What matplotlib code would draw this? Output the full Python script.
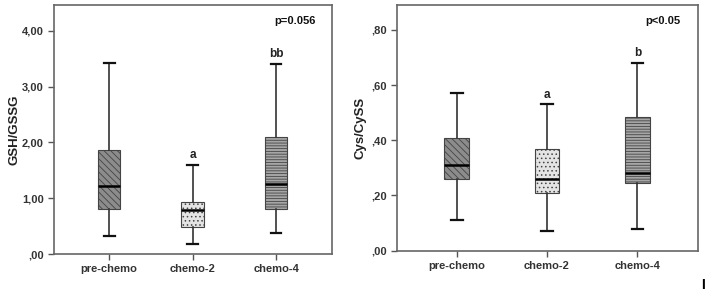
import numpy as np
import matplotlib.pyplot as plt
from matplotlib.ticker import FuncFormatter

groups = ["pre-chemo", "chemo-2", "chemo-4"]

# GSH/GSSG: whislo, q1, med, q3, whishi
gsh_low = [0.33, 0.18, 0.38]
gsh_q1 = [0.81, 0.49, 0.80]
gsh_med = [1.22, 0.78, 1.25]
gsh_q3 = [1.87, 0.94, 2.10]
gsh_high = [3.43, 1.60, 3.41]
gsh_marks = ["", "a", "bb"]

# Cys/CySS
cys_low = [0.11, 0.07, 0.08]
cys_q1 = [0.26, 0.21, 0.245]
cys_med = [0.31, 0.26, 0.28]
cys_q3 = [0.41, 0.37, 0.485]
cys_high = [0.57, 0.53, 0.68]
cys_marks = ["", "a", "b"]

fills = ["#8c8c8c", "#e4e4e4", "#a6a6a6"]
hatches = ["\\\\\\\\\\", "....", "------"]

plt.rcParams['font.family'] = ['Liberation Sans', 'DejaVu Sans']
plt.rcParams['hatch.linewidth'] = 0.6


def comma_fmt(v, pos):
    s = "%.2f" % v
    s = s.replace(".", ",")
    if s.startswith("0,"):
        s = s[1:]
    return s


def draw(ax, low, q1, med, q3, high, marks, ylim, ystep, ylabel, ptext):
    stats = []
    for i in range(len(groups)):
        stats.append(dict(whislo=low[i], q1=q1[i], med=med[i], q3=q3[i], whishi=high[i], fliers=[]))
    bp = ax.bxp(stats, positions=[1, 2, 3], widths=0.27, patch_artist=True,
                showfliers=False,
                medianprops=dict(color="black", linewidth=1.8),
                whiskerprops=dict(color="#333333", linewidth=1.2),
                capprops=dict(color="#111111", linewidth=1.6),
                boxprops=dict(edgecolor="#444444", linewidth=0.8))
    for patch, fc, h in zip(bp["boxes"], fills, hatches):
        patch.set_facecolor(fc)
        patch.set_hatch(h)
    for cap in bp["caps"]:
        x = cap.get_xdata()
        c = np.mean(x)
        cap.set_xdata([c - 0.065, c + 0.065])
    span = ylim[1] - ylim[0]
    for i, m in enumerate(marks):
        if m:
            ax.text(i + 1, high[i] + span * 0.015, m, ha="center", va="bottom",
                    fontsize=8.5, fontweight="bold", color="#222222")
    ax.set_xlim(0.34, 3.67)
    ax.set_ylim(ylim)
    ax.set_yticks(np.arange(0, ylim[1], ystep))
    ax.yaxis.set_major_formatter(FuncFormatter(comma_fmt))
    ax.set_xticks([1, 2, 3])
    ax.set_xticklabels(groups)
    ax.tick_params(axis="both", labelsize=8, color="#555555", length=4, width=1)
    for lab in ax.get_xticklabels() + ax.get_yticklabels():
        lab.set_fontweight("bold")
        lab.set_color("#333333")
    ax.set_ylabel(ylabel, fontsize=9.5, fontweight="bold", color="#222222")
    for s in ax.spines.values():
        s.set_color("#666666")
        s.set_linewidth(1.2)
    ax.text(0.94, 0.935, ptext, transform=ax.transAxes, ha="right", va="center",
            fontsize=8, fontweight="bold", color="#111111")


fig = plt.figure(figsize=(7.09, 2.94), dpi=100)
ax1 = fig.add_axes([54 / 709, 40 / 294, 278 / 709, 249 / 294])
ax2 = fig.add_axes([397 / 709, 43.3 / 294, 301 / 709, 245.7 / 294])

draw(ax1, gsh_low, gsh_q1, gsh_med, gsh_q3, gsh_high, gsh_marks, (0, 4.46), 1.0, "GSH/GSSG", "p=0.056")
draw(ax2, cys_low, cys_q1, cys_med, cys_q3, cys_high, cys_marks, (0, 0.89), 0.2, "Cys/CySS", "p<0.05")
ax1.yaxis.set_label_coords(-0.12, 0.5)
ax2.yaxis.set_label_coords(-0.1, 0.5)

fig.text(0.992, 0.03, "I", fontsize=10, fontweight="bold", ha="center", va="center")

fig.savefig("out.png", dpi=100)
